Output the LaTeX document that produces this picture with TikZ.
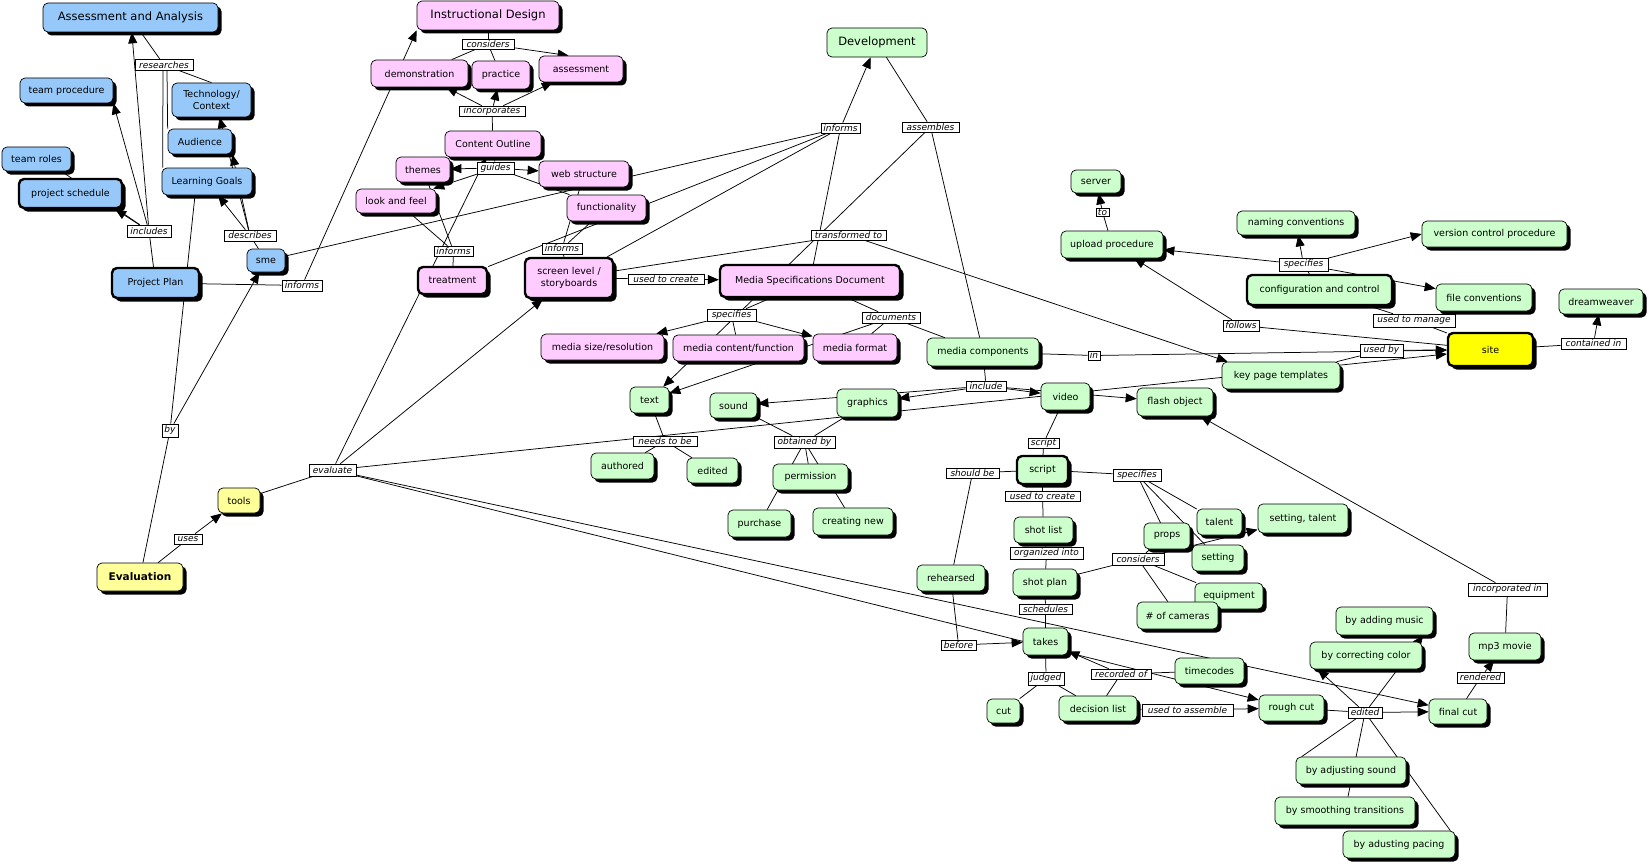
\documentclass[tikz,border=0pt]{standalone}
\usepackage{fontspec}
\setmainfont{DejaVu Sans}
\usetikzlibrary{shadows,arrows.meta,backgrounds,calc}
\definecolor{cblue}{RGB}{150,200,250}
\definecolor{cpink}{RGB}{255,204,255}
\definecolor{cgreen}{RGB}{204,255,204}
\definecolor{cyel}{RGB}{255,255,153}
\definecolor{csite}{RGB}{255,255,0}
\newcommand\fsbig{\fontsize{11.5}{13}\selectfont}
\tikzset{
  cbox/.style={draw=black, line width=0.7pt, rounded corners=5pt, inner sep=1pt, align=center,
    font=\fontsize{9.5}{11.5}\selectfont,
    drop shadow={shadow xshift=3.5pt, shadow yshift=-3.5pt, fill=black, opacity=1}},
  bn/.style={cbox, fill=cblue},
  pn/.style={cbox, fill=cpink},
  gn/.style={cbox, fill=cgreen},
  yn/.style={cbox, fill=cyel},
  thk/.style={line width=2.4pt},
  sz/.style 2 args={minimum width=#1pt, minimum height=#2pt},
  lbl/.style={draw=black, line width=0.6pt, fill=white, inner xsep=1pt, inner ysep=0.3pt,
    font=\fontsize{9}{10}\selectfont\itshape},
  ln/.style={line width=0.75pt, black},
  ar/.style={-{Triangle[length=11pt,width=9pt]}}
}
\begin{document}
\begin{tikzpicture}[x=1pt,y=-1pt]
\useasboundingbox (0,0) rectangle (1649,864);
% ---------- blue ----------
\node[bn,sz={175}{29},font=\fsbig] (AA) at (130.5,17.5) {Assessment and Analysis};
\node[bn,sz={93}{25}] (tproc) at (66.5,90.5) {team procedure};
\node[bn,sz={79}{34}] (tech) at (211.5,100) {Technology/\\Context};
\node[bn,sz={64}{25}] (aud) at (200,141.5) {Audience};
\node[bn,sz={69}{24}] (troles) at (36.5,159) {team roles};
\node[bn,thk,sz={103}{29}] (psched) at (70.5,193.5) {project schedule};
\node[bn,sz={90}{27}] (lg) at (207,181.5) {Learning Goals};
\node[bn,sz={38}{23}] (sme) at (266,260.5) {sme};
\node[bn,thk,sz={87}{30}] (pp) at (155.5,283) {Project Plan};
% ---------- yellow ----------
\node[yn,sz={42}{25}] (tools) at (239,500.5) {tools};
\node[yn,sz={86}{28},font=\fontsize{10.5}{12}\selectfont\bfseries] (evaluation) at (140,577) {Evaluation};
% ---------- pink ----------
\node[pn,sz={142}{29},font=\fsbig] (ID) at (488,15.5) {Instructional Design};
\node[pn,sz={97}{27}] (demo) at (419.5,73.5) {demonstration};
\node[pn,sz={58}{28}] (prac) at (501,75) {practice};
\node[pn,sz={84}{26}] (assess) at (581,69) {assessment};
\node[pn,sz={96}{26}] (co) at (493,144) {Content Outline};
\node[pn,sz={54}{25}] (themes) at (423,169.5) {themes};
\node[pn,sz={90}{26}] (web) at (584,174) {web structure};
\node[pn,sz={80}{24}] (laf) at (396,201) {look and feel};
\node[pn,sz={79}{26}] (func) at (606.5,208) {functionality};
\node[pn,thk,sz={69}{27}] (treat) at (452.5,280.5) {treatment};
\node[pn,thk,sz={88}{40}] (sl) at (569,278) {screen level /\\storyboards};
\node[pn,thk,sz={180}{32}] (msd) at (810,281) {Media Specifications Document};
\node[pn,sz={123}{26}] (msr) at (602.5,347) {media size/resolution};
\node[pn,sz={131}{26}] (mcf) at (738.5,348) {media content/function};
\node[pn,sz={84}{27}] (mfmt) at (855,347.5) {media format};
% ---------- green ----------
\node[draw=black, line width=0.7pt, rounded corners=5pt, fill=cgreen, sz={100}{29}, font=\fsbig] (dev) at (877,42.5) {Development};
\node[gn,sz={50}{23}] (server) at (1096,181.5) {server};
\node[gn,sz={102}{27}] (upload) at (1112,244.5) {upload procedure};
\node[gn,sz={118}{24}] (naming) at (1296,223) {naming conventions};
\node[gn,sz={145}{26}] (vcp) at (1494.5,234) {version control procedure};
\node[gn,thk,sz={145}{30}] (cc) at (1319.5,290) {configuration and control};
\node[gn,sz={96}{27}] (fc) at (1484,297.5) {file conventions};
\node[gn,sz={84}{25}] (dw) at (1601,301.5) {dreamweaver};
\node[cbox,thk,fill=csite,sz={85}{33}] (site) at (1490.5,349.5) {site};
\node[gn,sz={118}{27}] (kpt) at (1281,375.5) {key page templates};
\node[gn,sz={112}{28}] (mc) at (983,352) {media components};
\node[gn,sz={61}{28}] (graphics) at (867.5,403) {graphics};
\node[gn,sz={49}{27}] (video) at (1065.5,396.5) {video};
\node[gn,sz={76}{28}] (flash) at (1175,402) {flash object};
\node[gn,sz={39}{26}] (text) at (649.5,400) {text};
\node[gn,sz={47}{25}] (sound) at (733.5,405.5) {sound};
\node[gn,sz={63}{26}] (authored) at (622.5,466) {authored};
\node[gn,sz={51}{25}] (edited1) at (712.5,470.5) {edited};
\node[gn,sz={75}{26}] (perm) at (810.5,477) {permission};
\node[gn,sz={63}{27}] (purchase) at (759.5,523.5) {purchase};
\node[gn,sz={80}{27}] (cnew) at (853,521.5) {creating new};
\node[gn,thk,sz={51}{28}] (scriptn) at (1042.5,470) {script};
\node[gn,sz={59}{26}] (shotlist) at (1043.5,530) {shot list};
\node[gn,sz={45}{26}] (talent) at (1219.5,522) {talent};
\node[gn,sz={52}{26}] (setting) at (1218,558) {setting};
\node[gn,sz={46}{26}] (props) at (1167,536) {props};
\node[gn,sz={90}{29}] (settal) at (1303,518.5) {setting, talent};
\node[gn,sz={68}{26}] (rehearsed) at (951,578) {rehearsed};
\node[gn,sz={64}{27}] (shotplan) at (1045,582.5) {shot plan};
\node[gn,sz={68}{26}] (equip) at (1229,596) {equipment};
\node[gn,sz={81}{27}] (ncam) at (1177.5,615.5) {\# of cameras};
\node[gn,sz={45}{27}] (takes) at (1045.5,641.5) {takes};
\node[gn,sz={69}{26}] (timecodes) at (1209.5,671) {timecodes};
\node[gn,sz={33}{24}] (cut) at (1003.5,711) {cut};
\node[gn,sz={78}{25}] (dlist) at (1098,708.5) {decision list};
\node[gn,sz={65}{26}] (rough) at (1291.5,708) {rough cut};
\node[gn,sz={58}{25}] (final) at (1458,711.5) {final cut};
\node[gn,sz={97}{28}] (music) at (1384.5,621) {by adding music};
\node[gn,sz={112}{27}] (color) at (1366,655.5) {by correcting color};
\node[gn,sz={72}{27}] (mp3) at (1505,646.5) {mp3 movie};
\node[gn,sz={110}{27}] (bsound) at (1351,770.5) {by adjusting sound};
\node[gn,sz={140}{28}] (trans) at (1345,811) {by smoothing transitions};
\node[gn,sz={112}{27}] (pacing) at (1399,844.5) {by adusting pacing};
% ---------- linking phrases ----------
\node[lbl,sz={58}{11}] (l_res) at (164,65) {researches};
\node[lbl,sz={44}{12}] (l_inc) at (149,231) {includes};
\node[lbl,sz={52}{11}] (l_desc) at (250,235.5) {describes};
\node[lbl,sz={40}{11}] (l_inf1) at (302,285.5) {informs};
\node[lbl,sz={16}{13}] (l_by) at (170,430.5) {by};
\node[lbl,sz={47}{12}] (l_eval) at (332.5,470) {evaluate};
\node[lbl,sz={28}{10}] (l_uses) at (188,539) {uses};
\node[lbl,sz={52}{10}] (l_cons) at (488,44) {considers};
\node[lbl,sz={66}{10}] (l_incorp) at (492,111) {incorporates};
\node[lbl,sz={37}{12}] (l_guides) at (495.5,168) {guides};
\node[lbl,sz={39}{10}] (l_inf2) at (453.5,251) {informs};
\node[lbl,sz={40}{11}] (l_inf3) at (562,248.5) {informs};
\node[lbl,sz={76}{10}] (l_utc) at (666,279) {used to create};
\node[lbl,sz={39}{10}] (l_infD) at (840.5,128) {informs};
\node[lbl,sz={57}{10}] (l_asm) at (930.5,127) {assembles};
\node[lbl,sz={75}{10}] (l_tr) at (848.5,235) {transformed to};
\node[lbl,sz={13}{8}] (l_to) at (1102.5,212) {to};
\node[lbl,sz={49}{13}] (l_spec1) at (1303.5,264.5) {specifies};
\node[lbl,sz={36}{11}] (l_fol) at (1241,325.5) {follows};
\node[lbl,sz={82}{13}] (l_utm) at (1414,320.5) {used to manage};
\node[lbl,sz={65}{11}] (l_cont) at (1593.5,343.5) {contained in};
\node[lbl,sz={43}{13}] (l_usedby) at (1381.5,350.5) {used by};
\node[lbl,sz={49}{12}] (l_spec2) at (731.5,315) {specifies};
\node[lbl,sz={58}{11}] (l_doc) at (891,317.5) {documents};
\node[lbl,sz={12}{9}] (l_in) at (1094,355.5) {in};
\node[lbl,sz={40}{10}] (l_incl) at (986,386) {include};
\node[lbl,sz={64}{10}] (l_needs) at (665,441) {needs to be};
\node[lbl,sz={61}{12}] (l_obt) at (804.5,442) {obtained by};
\node[lbl,sz={31}{10}] (l_script) at (1043.5,443) {script};
\node[lbl,sz={53}{10}] (l_should) at (972.5,473) {should be};
\node[lbl,sz={48}{12}] (l_spec3) at (1137,475) {specifies};
\node[lbl,sz={75}{10}] (l_utc2) at (1042.5,496) {used to create};
\node[lbl,sz={73}{12}] (l_org) at (1046.5,553) {organized into};
\node[lbl,sz={52}{12}] (l_cons2) at (1138,559) {considers};
\node[lbl,sz={53}{10}] (l_sched) at (1045.5,609) {schedules};
\node[lbl,sz={35}{10}] (l_before) at (958.5,645) {before};
\node[lbl,sz={36}{13}] (l_judged) at (1046,678.5) {judged};
\node[lbl,sz={60}{10}] (l_rec) at (1121,674) {recorded of};
\node[lbl,sz={91}{12}] (l_uta) at (1187.5,710) {used to assemble};
\node[lbl,sz={79}{13}] (l_incin) at (1507.5,589.5) {incorporated in};
\node[lbl,sz={47}{11}] (l_rend) at (1480.5,677.5) {rendered};
\node[lbl,sz={34}{11}] (l_edited) at (1365,712.5) {edited};
% ---------- connectors ----------
\begin{pgfonlayer}{background}
\begin{scope}[ln]
\draw (AA) -- (l_res);
\draw (l_res) -- (tech.north);
\draw ($(l_res.south)+(3,0)$) -- (aud.north west);
\draw ($(l_res.south)+(-1,0)$) -- ($(lg.north west)+(1,0)$);
\draw (pp) -- (l_inc);
\draw[ar] (l_inc) -- (AA);
\draw[ar] (l_inc) -- (tproc.south east);
\draw[ar] (l_inc) -- ($(psched.south east)+(-8,0)$);
\draw (l_inc) -- ($(troles.south)+(25,0)$);
\draw (sme) -- (l_desc);
\draw[ar] (l_desc) -- (lg);
\draw[ar] (l_desc) -- (aud.south east);
\draw[ar] (l_desc) -- ($(tech.south)+(8,0)$);
\draw ($(lg.south)+(-12,0)$) -- (l_by);
\draw (evaluation) -- (l_by);
\draw[ar] (l_by) -- (sme);
\draw (pp) -- (l_inf1);
\draw[ar] (l_inf1) -- (ID.south west);
\draw (evaluation) -- (l_uses);
\draw[ar] (l_uses) -- (tools);
\draw (tools) -- (l_eval);
\draw[ar] (l_eval) -- (co);
\draw[ar] (l_eval) -- (sl);
\draw[ar] (l_eval) -- (site);
\draw[ar] (l_eval) -- (rough);
\draw[ar] (l_eval) -- (final);
\draw (ID) -- (l_cons);
\draw (l_cons) -- (demo);
\draw (l_cons) -- (prac);
\draw[ar] (l_cons) -- ($(assess.north west)+(30,0)$);
\draw (co) -- (l_incorp);
\draw[ar] (l_incorp) -- (demo);
\draw[ar] (l_incorp) -- (prac);
\draw[ar] (l_incorp) -- (assess);
\draw (co) -- (l_guides);
\draw[ar] (l_guides) -- (themes);
\draw[ar] (l_guides) -- (laf);
\draw[ar] (l_guides) -- (web);
\draw (l_guides) -- (func);
\draw (treat) -- (l_inf2);
\draw (l_inf2) -- (laf);
\draw (l_inf2) -- (themes);
\draw (sl) -- (l_inf3);
\draw (l_inf3) -- (func);
\draw (l_inf3) -- (web);
\draw (sl) -- (l_utc);
\draw[ar] (l_utc) -- (msd);
\draw (sl) -- (l_tr);
\draw[ar] (l_tr) -- ($(kpt.north west)+(6,0)$);
\draw (sme) -- (l_infD);
\draw (treat) -- (l_infD);
\draw (sl) -- (l_infD);
\draw (msd) -- (l_infD);
\draw[ar] (l_infD) -- (dev);
\draw (dev) -- (l_asm);
\draw (l_asm) -- (mc);
\draw[ar] (l_asm) -- (text);
\draw (msd) -- (l_spec2);
\draw[ar] (l_spec2) -- (msr);
\draw[ar] (l_spec2) -- (mfmt);
\draw (l_spec2) -- (mcf);
\draw (msd) -- (l_doc);
\draw (l_doc) -- (mfmt);
\draw (l_doc) -- (mc);
\draw[ar] (l_doc) -- (text);
\draw (mc) -- (l_in);
\draw[ar] (l_in) -- (site);
\draw (mc) -- (l_incl);
\draw[ar] (l_incl) -- (graphics);
\draw[ar] (l_incl) -- (sound);
\draw[ar] (l_incl) -- (video);
\draw[ar] (l_incl) -- (flash);
\draw (graphics) -- (l_obt);
\draw (sound) -- (l_obt);
\draw (l_obt) -- (perm);
\draw (l_obt) -- (purchase);
\draw (l_obt) -- (cnew);
\draw (text) -- (l_needs);
\draw (l_needs) -- (authored);
\draw (l_needs) -- (edited1);
\draw (video) -- (l_script);
\draw (l_script) -- (scriptn);
\draw (scriptn) -- (l_should);
\draw (l_should) -- (rehearsed);
\draw (rehearsed) -- (l_before);
\draw[ar] (l_before) -- (takes);
\draw (scriptn) -- (l_utc2);
\draw (l_utc2) -- (shotlist);
\draw (scriptn) -- (l_spec3);
\draw (l_spec3) -- (props);
\draw (l_spec3) -- (talent);
\draw (l_spec3) -- (setting);
\draw (shotlist) -- (l_org);
\draw (l_org) -- (shotplan);
\draw (shotplan) -- (l_cons2);
\draw (l_cons2) -- (props);
\draw (l_cons2) -- (equip);
\draw (l_cons2) -- (ncam);
\draw[ar] (l_cons2) -- (settal);
\draw (shotplan) -- (l_sched);
\draw (l_sched) -- (takes);
\draw (takes) -- (l_judged);
\draw (l_judged) -- (cut);
\draw (l_judged) -- (dlist);
\draw (dlist) -- (l_rec);
\draw (timecodes) -- (l_rec);
\draw[ar] (l_rec) -- (takes);
\draw (dlist) -- (l_uta);
\draw[ar] (l_uta) -- (rough);
\draw (rough) -- (l_edited);
\draw[ar] (l_edited) -- (final);
\draw[ar] (l_edited) -- ($(color.south west)+(8,0)$);
\draw[ar] (l_edited) -- ($(music.south east)+(-10,0)$);
\draw (l_edited) -- ($(bsound.north west)+(6,0)$);
\draw (l_edited) -- ($(trans.north)+(3,0)$);
\draw (l_edited) -- ($(pacing.north east)+(-5,0)$);
\draw (final) -- (l_rend);
\draw[ar] (l_rend) -- (mp3);
\draw (mp3) -- (l_incin);
\draw[ar] (l_incin) -- (flash);
\draw (cc) -- (l_spec1);
\draw[ar] (l_spec1) -- (naming);
\draw[ar] (l_spec1) -- (vcp.west);
\draw[ar] (l_spec1) -- (fc);
\draw[ar] (l_spec1) -- (upload);
\draw (upload) -- (l_to);
\draw[ar] (l_to) -- (server);
\draw (site) -- (l_fol);
\draw[ar] (l_fol) -- (upload);
\draw (cc) -- (l_utm);
\draw (l_utm) -- (site);
\draw (kpt) -- (l_usedby);
\draw[ar] (l_usedby) -- (site);
\draw (site) -- (l_cont);
\draw[ar] (l_cont) -- (dw);
\end{scope}
\end{pgfonlayer}
\end{tikzpicture}
\end{document}
